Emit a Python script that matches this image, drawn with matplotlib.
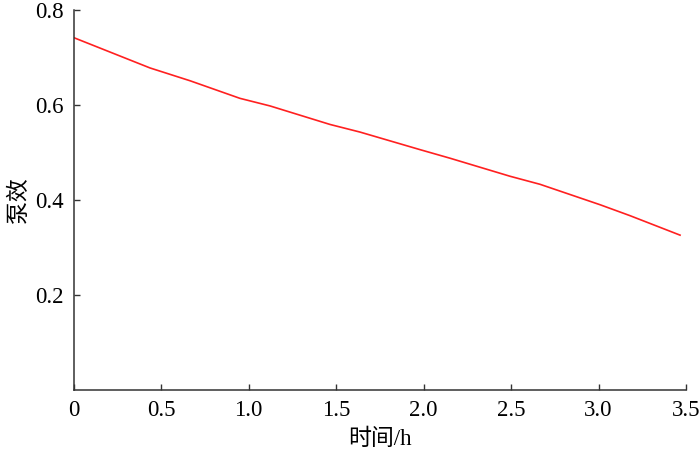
import matplotlib
matplotlib.use("Agg")
import matplotlib.pyplot as plt

# 数据：泵效随时间变化
t_h = [0.0, 0.437, 0.666, 0.951, 1.123, 1.466, 1.637, 1.980, 2.151, 2.494, 2.666, 3.009, 3.180, 3.466]
eff = [0.742, 0.678, 0.651, 0.614, 0.598, 0.559, 0.543, 0.506, 0.488, 0.450, 0.433, 0.390, 0.367, 0.326]

xticks = [0, 0.5, 1.0, 1.5, 2.0, 2.5, 3.0, 3.5]
xlabels = ["0", "0.5", "1.0", "1.5", "2.0", "2.5", "3.0", "3.5"]
yticks = [0.2, 0.4, 0.6, 0.8]
ylabels = ["0.2", "0.4", "0.6", "0.8"]

FONT = ["Liberation Serif", "Noto Sans CJK SC", "DejaVu Sans"]
plt.rcParams["font.family"] = FONT

fig = plt.figure(figsize=(7, 4.54), dpi=100)
ax = fig.add_axes([0.105, 0.141, 0.875, 0.837])
ax.plot(t_h, eff, color="#ff2020", lw=1.2)

ax.set_xlim(0, 3.5)
ax.set_ylim(0, 0.8)
ax.set_xticks(xticks)
ax.set_xticklabels(xlabels)
ax.set_yticks(yticks)
ax.set_yticklabels(ylabels)
ax.tick_params(direction="in", length=4.5, width=1, labelsize=16.5, color="#333333", pad=7)

for s in ["top", "right"]:
    ax.spines[s].set_visible(False)
for s in ["left", "bottom"]:
    ax.spines[s].set_color("#333333")
    ax.spines[s].set_linewidth(1.1)

ax.set_xlabel("时间/h", fontsize=16.5, labelpad=6)
ax.set_ylabel("泵效", fontsize=16.5, labelpad=4)

fig.savefig("out.png", dpi=100)
